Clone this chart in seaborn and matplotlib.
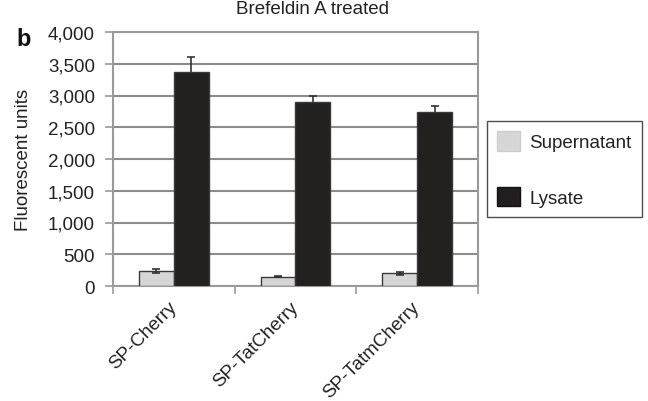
import matplotlib
matplotlib.use("Agg")
import matplotlib.pyplot as plt
import seaborn as sns
import pandas as pd
from matplotlib.patches import Patch

constructs = ["SP-Cherry", "SP-TatCherry", "SP-TatmCherry"]
fractions = ["Supernatant", "Lysate"]
supernatant = [236, 147, 200]
lysate = [3375, 2903, 2745]
supernatant_err = [30, 10, 20]
lysate_err = [230, 90, 95]
colors = ["#d6d6d6", "#231f20"]

df = pd.DataFrame({
    "construct": constructs * 2,
    "fraction": [fractions[0]] * 3 + [fractions[1]] * 3,
    "value": supernatant + lysate,
    "err": supernatant_err + lysate_err,
})

sns.set_style("white")
plt.rcParams["font.family"] = ["Liberation Sans", "DejaVu Sans"]
fs = 13.5

fig = plt.figure(figsize=(6.48, 4.02), dpi=100)
ax = fig.add_axes([113 / 648, 1 - 287 / 402, 365 / 648, 254 / 402])

sns.barplot(data=df, x="construct", y="value", hue="fraction", order=constructs,
            hue_order=fractions, palette=colors, width=0.575, errorbar=None,
            edgecolor="#3a3a3a", linewidth=1.0, legend=False, ax=ax, zorder=3)

# error bars at the centres of the drawn bars; lysate ones sit behind the bar
bars = [p for p in ax.patches if p.get_height() > 0]
for p, (_, row) in zip(bars, df.iterrows()):
    z = 4 if row["fraction"] == "Supernatant" else 2
    ax.errorbar(p.get_x() + p.get_width() / 2, row["value"], yerr=row["err"],
                fmt="none", ecolor="#333333", elinewidth=1.2, capsize=3,
                capthick=1.2, zorder=z)

ax.set_ylim(0, 4000)
ax.set_xlim(-0.5, 2.5)
ax.set_yticks(range(0, 4001, 500))
ax.set_yticklabels([f"{v:,}" for v in range(0, 4001, 500)])
ax.yaxis.grid(True, color="#8c8c8c", linewidth=1.5, zorder=0)
ax.set_axisbelow(True)
for s in ax.spines.values():
    s.set_color("#9a9a9a")
    s.set_linewidth(1.5)
ax.tick_params(axis="y", length=6, width=1.2, color="#9a9a9a", pad=7,
               labelsize=fs, colors="#222222", left=True)
ax.tick_params(axis="x", which="major", length=0, pad=13, labelsize=fs,
               colors="#222222")
ax.set_xticks([-0.5, 0.5, 1.5, 2.5], minor=True)
ax.tick_params(axis="x", which="minor", length=6, width=1.2, color="#9a9a9a",
               bottom=True)
for lbl in ax.get_xticklabels():
    lbl.set_rotation(45)
    lbl.set_ha("right")
    lbl.set_va("center")
    lbl.set_rotation_mode("anchor")
ax.set_xlabel("")
ax.set_ylabel("Fluorescent units", fontsize=fs, labelpad=11.5, color="#222222")

fig.text(312 / 648, 1 - 10 / 402, "Brefeldin A treated", ha="center",
         va="center", fontsize=fs, color="#222222")
fig.text(24 / 648, 1 - 40 / 402, "b", ha="center", va="center", fontsize=17,
         fontweight="bold", color="#111111")

handles = [Patch(facecolor=colors[0], edgecolor="#cccccc"),
           Patch(facecolor=colors[1], edgecolor="#111111")]
leg = fig.legend(handles, fractions, loc="upper left",
                 bbox_to_anchor=(487 / 648, 1 - 122 / 402),
                 bbox_transform=fig.transFigure, frameon=True, fancybox=False,
                 fontsize=fs, handlelength=1.2, handleheight=1.2,
                 handletextpad=0.5, labelspacing=1.9, borderpad=0.55,
                 borderaxespad=0, labelcolor="#222222")
leg.get_frame().set_edgecolor("#222222")
leg.get_frame().set_linewidth(1.0)

fig.savefig("out.png", dpi=100)
